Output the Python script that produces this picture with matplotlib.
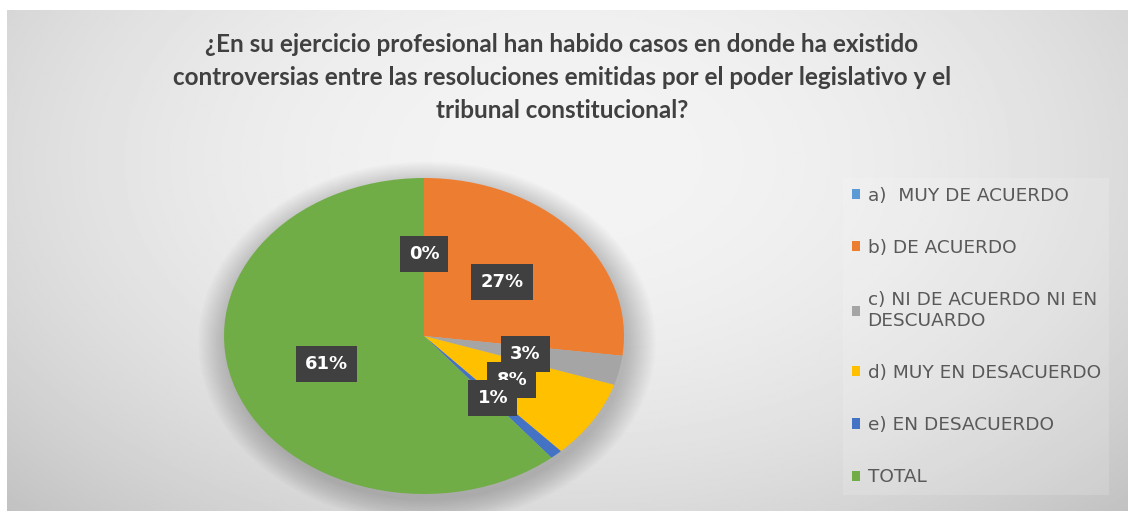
import numpy as np
import matplotlib.pyplot as plt
from matplotlib.patches import Ellipse

# datos de la encuesta
categorias = ["a)  MUY DE ACUERDO", "b) DE ACUERDO", "c) NI DE ACUERDO NI EN\nDESCUARDO",
              "d) MUY EN DESACUERDO", "e) EN DESACUERDO", "TOTAL"]
valores = [0, 27, 3, 8, 1, 61]
colores = ["#5B9BD5", "#ED7D31", "#A5A5A5", "#FFC000", "#4472C4", "#70AD47"]
titulo = ("¿En su ejercicio profesional han habido casos en donde ha existido\n"
          "controversias entre las resoluciones emitidas por el poder legislativo y el\n"
          "tribunal constitucional?")

W, H = 1128, 511
fig = plt.figure(figsize=(W / 100, H / 100), dpi=100)

# fondo con degradado radial
bg = fig.add_axes([7 / W, 0, 1 - 7 / W, 501 / H])
yy, xx = np.mgrid[0:1:300j, 0:1:600j]
d = np.sqrt(((xx - 0.5) / 0.72) ** 2 + ((yy - 0.3) / 1.0) ** 2)
img = 0.955 - 0.2 * np.clip(d, 0, 1) ** 2
bg.imshow(img, cmap="gray", vmin=0, vmax=1, extent=[0, 1, 0, 1], aspect="auto", origin="upper")
bg.axis("off")

fig.text(0.498, 1 - 33 / H, titulo, ha="center", va="top", fontsize=17.5, fontweight="bold",
         family="Lato", color="#404040", linespacing=1.52)

# pastel (eliptico como en la imagen)
cx, cy, rx, ry = 424, 336, 200, 158
ax = fig.add_axes([(cx - rx) / W, (H - cy - ry) / H, 2 * rx / W, 2 * ry / H])

# sombra suave
for k in range(14):
    s = 1.0 + 0.011 * k
    ax.add_patch(Ellipse((0.015, -0.04), 2 * s, 2 * s, color="black",
                         alpha=0.016, lw=0, zorder=0, clip_on=False))

wedges, texts, autotexts = ax.pie(valores, colors=colores, startangle=90, counterclock=False,
                                  autopct="%1.0f%%", pctdistance=0.52,
                                  textprops=dict(color="white", fontsize=13, fontweight="bold",
                                                 family="DejaVu Sans"))
for w in wedges:
    w.set_zorder(2)
for t in autotexts:
    t.set_zorder(5)
    t.set_bbox(dict(boxstyle="square,pad=0.5", fc="#404040", ec="none"))
ax.set_aspect("auto")
ax.set_xlim(-1, 1)
ax.set_ylim(-1, 1)
ax.axis("off")

leg = fig.legend(wedges, categorias, loc="upper left", bbox_to_anchor=(834 / W, 1 - 169 / H),
                 frameon=True, fancybox=False, labelspacing=1.85,
                 handlelength=0.47, handleheight=0.47, handletextpad=0.4,
                 prop=dict(family="DejaVu Sans", size=13.3), borderpad=0.45)
leg.get_frame().set_facecolor("white")
leg.get_frame().set_alpha(0.15)
leg.get_frame().set_edgecolor("none")
for t in leg.get_texts():
    t.set_color("#595959")

fig.savefig("out.png", dpi=100)
